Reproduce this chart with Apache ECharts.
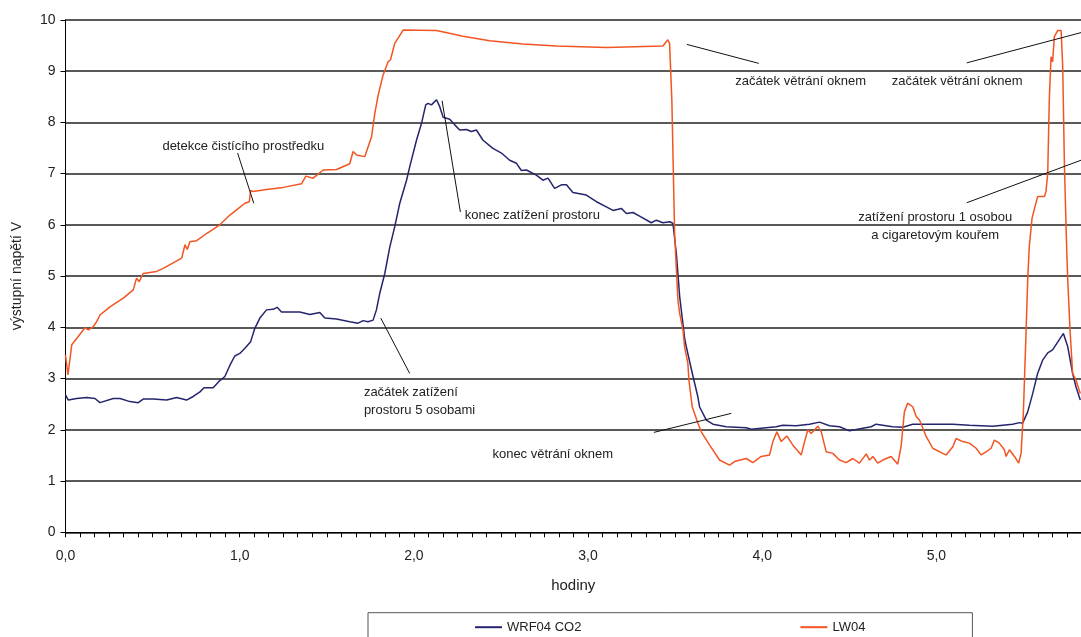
<!DOCTYPE html>
<html>
<head>
<meta charset="utf-8">
<script src="https://cdn.jsdelivr.net/npm/echarts@6/dist/echarts.min.js"></script>
<style>
html,body{margin:0;padding:0;background:#fff;}
#c{width:1081px;height:637px;}
</style>
</head>
<body>
<div id="c"></div>
<script>
// hours
var xTickLabels = [0, 1, 2, 3, 4, 5];
var yTickValues = [0,1,2,3,4,5,6,7,8,9,10];

var co2Hours = [0.000,0.016,0.064,0.122,0.169,0.198,0.274,0.313,0.370,0.418,0.446,0.504,0.581,0.638,0.695,0.733,0.772,0.795,0.848,0.886,0.915,0.944,0.972,1.001,1.030,1.063,1.087,1.116,1.154,1.192,1.215,1.240,1.345,1.403,1.460,1.489,1.556,1.632,1.680,1.709,1.737,1.766,1.785,1.804,1.833,1.862,1.890,1.919,1.958,1.976,2.015,2.044,2.068,2.081,2.101,2.130,2.149,2.168,2.206,2.235,2.263,2.302,2.330,2.359,2.397,2.454,2.503,2.550,2.589,2.617,2.646,2.703,2.741,2.770,2.808,2.847,2.876,2.913,2.990,3.048,3.105,3.143,3.191,3.220,3.258,3.296,3.363,3.392,3.430,3.468,3.487,3.507,3.526,3.554,3.564,3.602,3.630,3.640,3.679,3.717,3.793,3.908,3.937,4.080,4.118,4.195,4.271,4.329,4.386,4.444,4.501,4.625,4.654,4.749,4.807,4.864,4.979,5.094,5.189,5.323,5.438,5.476,5.495,5.524,5.553,5.581,5.610,5.639,5.667,5.729,5.754,5.782,5.801,5.826];
var co2Values = [2.68,2.58,2.61,2.63,2.61,2.53,2.61,2.61,2.55,2.53,2.60,2.60,2.58,2.63,2.58,2.65,2.74,2.82,2.82,2.96,3.04,3.26,3.44,3.49,3.59,3.72,3.98,4.18,4.34,4.35,4.39,4.30,4.30,4.25,4.29,4.18,4.16,4.11,4.08,4.13,4.11,4.14,4.34,4.66,5.05,5.57,5.96,6.42,6.87,7.13,7.65,7.98,8.34,8.37,8.34,8.44,8.30,8.10,8.06,7.95,7.85,7.86,7.82,7.85,7.65,7.49,7.40,7.26,7.20,7.06,7.07,6.97,6.87,6.91,6.71,6.78,6.78,6.63,6.58,6.45,6.35,6.28,6.32,6.22,6.24,6.17,6.04,6.09,6.04,6.06,6.03,5.44,4.60,3.80,3.62,3.05,2.65,2.45,2.19,2.11,2.06,2.04,2.01,2.06,2.09,2.08,2.11,2.15,2.08,2.06,1.98,2.06,2.11,2.06,2.05,2.11,2.11,2.11,2.09,2.07,2.11,2.14,2.13,2.35,2.71,3.10,3.36,3.50,3.56,3.88,3.62,3.10,2.84,2.58];

var lwHours = [0.000,0.014,0.036,0.073,0.112,0.131,0.159,0.179,0.198,0.255,0.332,0.389,0.408,0.423,0.446,0.523,0.561,0.667,0.686,0.699,0.714,0.753,0.810,0.886,0.944,0.982,1.030,1.055,1.063,1.077,1.154,1.250,1.355,1.380,1.422,1.479,1.556,1.632,1.651,1.671,1.718,1.737,1.757,1.776,1.795,1.823,1.852,1.866,1.890,1.915,1.938,2.130,2.282,2.435,2.626,2.818,3.105,3.430,3.458,3.468,3.481,3.497,3.516,3.526,3.545,3.554,3.573,3.579,3.598,3.627,3.650,3.698,3.755,3.812,3.841,3.908,3.946,3.994,4.042,4.061,4.084,4.109,4.141,4.176,4.224,4.243,4.262,4.281,4.319,4.339,4.367,4.405,4.444,4.482,4.520,4.558,4.597,4.616,4.635,4.663,4.692,4.740,4.778,4.797,4.816,4.835,4.864,4.884,4.903,4.941,4.979,5.036,5.056,5.094,5.113,5.151,5.189,5.228,5.256,5.285,5.314,5.333,5.361,5.390,5.400,5.419,5.448,5.472,5.486,5.499,5.515,5.524,5.533,5.549,5.581,5.620,5.629,5.639,5.648,5.658,5.667,5.677,5.696,5.716,5.725,5.735,5.748,5.754,5.767,5.782,5.801,5.826];
var lwValues = [3.46,3.07,3.66,3.82,3.99,3.95,4.01,4.11,4.24,4.40,4.57,4.73,4.96,4.89,5.05,5.09,5.15,5.35,5.61,5.52,5.67,5.69,5.83,6.00,6.19,6.29,6.42,6.45,6.67,6.65,6.69,6.73,6.80,6.95,6.91,7.07,7.08,7.19,7.43,7.36,7.33,7.52,7.72,8.18,8.53,8.92,9.18,9.22,9.54,9.67,9.80,9.79,9.68,9.59,9.53,9.49,9.46,9.49,9.61,9.54,8.44,5.83,4.53,4.27,3.95,3.62,3.30,2.97,2.45,2.16,1.96,1.70,1.41,1.31,1.38,1.44,1.36,1.48,1.51,1.77,1.96,1.77,1.88,1.70,1.51,1.77,2.00,1.93,2.07,1.96,1.57,1.54,1.41,1.36,1.44,1.35,1.53,1.41,1.48,1.35,1.41,1.48,1.33,1.67,2.35,2.52,2.45,2.26,2.19,1.87,1.64,1.54,1.51,1.67,1.83,1.77,1.74,1.64,1.51,1.57,1.64,1.80,1.74,1.61,1.48,1.61,1.48,1.35,1.54,2.32,3.95,4.93,5.57,6.13,6.55,6.55,6.65,7.00,8.44,9.28,9.18,9.67,9.79,9.79,9.08,7.13,5.51,4.92,3.95,3.10,2.97,2.71];

var seriesNames = ['WRF04 CO2', 'LW04'];
var axisNames = ['hodiny', 'výstupní napětí V'];

// annotations: text, anchor [hours, volts], alignment, leader line endpoints
var annoTexts = ['detekce čistícího prostředku','konec zatížení prostoru','začátek větrání oknem','začátek větrání oknem','zatížení prostoru 1 osobou\na cigaretovým kouřem','začátek zatížení\nprostoru 5 osobami','konec větrání oknem'];
var annoAnchors = [[1.021,7.52],[2.292,6.19],[3.845,8.79],[4.744,8.79],[4.993,5.97],[1.713,2.56],[2.451,1.51]];
var annoAlign = ['center','left','left','left','center','left','left'];
var leaderLines = [[[0.988,7.40],[1.081,6.42]],[[2.162,8.42],[2.267,6.25]],[[3.567,9.52],[3.980,9.15]],[[5.174,9.16],[5.830,9.75]],[[5.174,6.43],[5.830,7.26]],[[1.810,4.18],[1.976,3.10]],[[3.378,1.95],[3.822,2.32]]];

function pairs(xs, ys){ var o=[]; for(var i=0;i<xs.length;i++){o.push([xs[i],ys[i]]);} return o; }
var minorTicks = []; for (var k=0;k<=70;k++){ var v=k/12; if(v<=5.83) minorTicks.push(v); }

var chart = echarts.init(document.getElementById('c'), null, {renderer:'canvas'});
var FONT = '"Liberation Sans", Arial, sans-serif';
var option = {
  animation:false,
  backgroundColor:'#fff',
  textStyle:{fontFamily:FONT},
  grid:{left:65.5, right:0, top:19.8, bottom:104.7, containLabel:false},
  legend:{
    left:368, top:612.7,
    orient:'horizontal',
    data:[{name:seriesNames[0], icon:'rect'},{name:seriesNames[1], icon:'rect'}],
    itemWidth:27, itemHeight:2, itemGap:219,
    padding:[8,107,30,107],
    borderColor:'#555', borderWidth:1,
    textStyle:{fontSize:13, color:'#222', fontFamily:FONT}
  },
  xAxis:{
    type:'value', min:0, max:5.83, interval:1,
    name:axisNames[0], nameLocation:'middle', nameGap:46,
    nameTextStyle:{fontSize:15, color:'#222', fontFamily:FONT},
    axisLine:{show:true, lineStyle:{color:'#000', width:1}},
    axisTick:{show:true, length:5, lineStyle:{color:'#000'}, customValues:minorTicks},
    axisLabel:{customValues:xTickLabels, margin:17, fontSize:14, color:'#222', fontFamily:FONT,
      formatter:function(v){return v.toFixed(1).replace('.',',');}},
    splitLine:{show:false}
  },
  yAxis:{
    type:'value', min:0, max:10, interval:1,
    name:axisNames[1], nameLocation:'middle', nameGap:41,
    nameTextStyle:{fontSize:14, color:'#222', fontFamily:FONT},
    axisLine:{show:true, lineStyle:{color:'#000', width:1}},
    axisTick:{show:true, length:5, lineStyle:{color:'#000'}},
    axisLabel:{margin:10, fontSize:14, color:'#222', fontFamily:FONT},
    splitLine:{show:true, lineStyle:{color:'#222', width:1.5}}
  },
  series:[
    {name:seriesNames[0], type:'line', showSymbol:false, symbol:'none', color:'#25256e',
     lineStyle:{width:1.5, color:'#25256e'}, data:pairs(co2Hours, co2Values)},
    {name:seriesNames[1], type:'line', showSymbol:false, symbol:'none', color:'#f25522',
     lineStyle:{width:1.5, color:'#f25522'}, data:pairs(lwHours, lwValues),
     markLine:{silent:true, symbol:['none','none'], animation:false,
       lineStyle:{color:'#111', width:1, type:'solid'}, label:{show:false},
       data:leaderLines.map(function(l){return [{coord:l[0]},{coord:l[1]}];})}}
  ]
};
chart.setOption(option);

var g = [];
for (var i=0;i<annoTexts.length;i++){
  var p = chart.convertToPixel({gridIndex:0}, annoAnchors[i]);
  g.push({type:'text', x:p[0], y:p[1], silent:true,
    style:{text:annoTexts[i], fill:'#222', font:'13px "Liberation Sans", Arial, sans-serif',
      textAlign:annoAlign[i], textVerticalAlign:'middle', lineHeight:18}});
}
chart.setOption({graphic:g});
</script>
</body>
</html>
